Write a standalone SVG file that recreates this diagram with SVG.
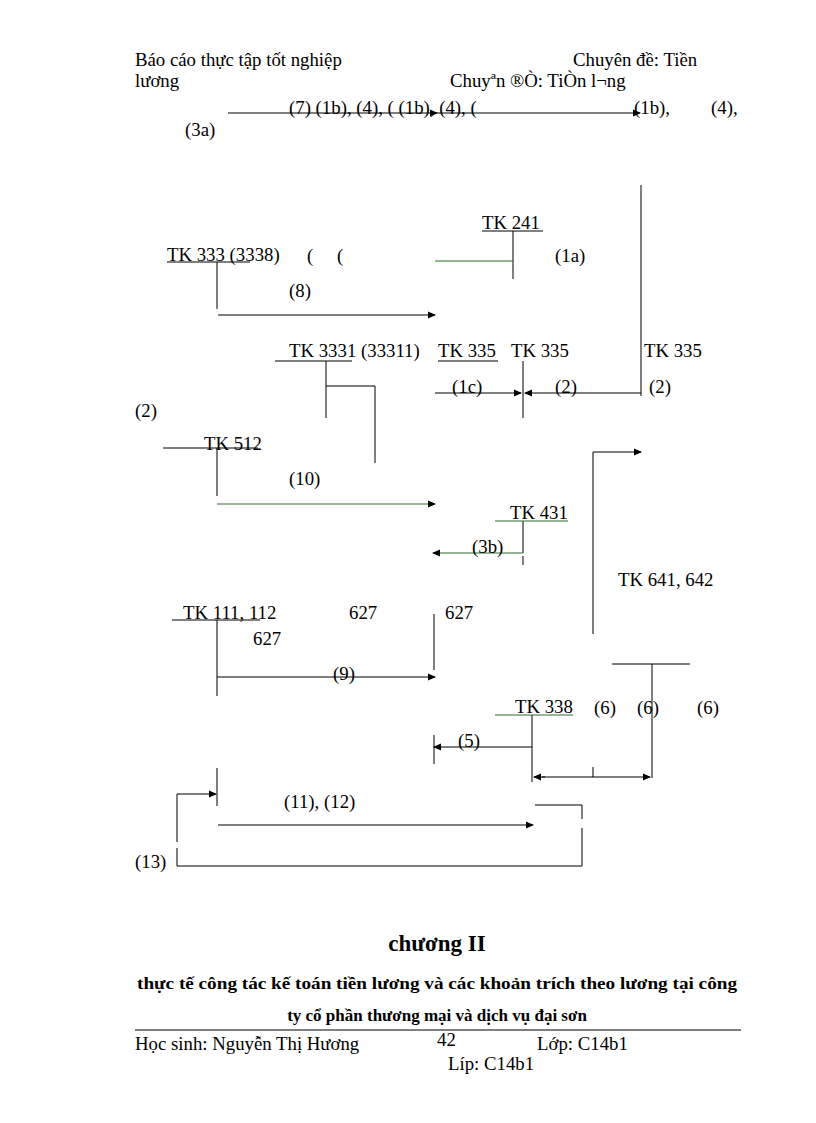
<svg xmlns="http://www.w3.org/2000/svg" width="816" height="1123" viewBox="0 0 816 1123">
<style>
text{font-family:"Liberation Serif",serif;font-size:18.8px;fill:#000}
.l{stroke:#000;stroke-width:1;fill:none}
.g{stroke:#2e6b2e;stroke-width:1;fill:none}
.b{font-weight:bold}
</style>
<defs><marker id="a" markerWidth="8" markerHeight="8" refX="7" refY="4" orient="auto" markerUnits="userSpaceOnUse"><path d="M0,0.5L8,4L0,7.5z" fill="#000"/></marker></defs>
<rect width="816" height="1123" fill="#fff"/>
<g id="header">
<text x="135" y="66">Báo cáo thực tập tốt nghiệp</text>
<text x="573" y="66">Chuyên đề: Tiền</text>
<text x="135" y="87">lương</text>
<text x="450" y="87">Chuyªn ®Ò: TiÒn l¬ng</text>
</g>
<g id="connectors">
<line class="l" x1="228" y1="113" x2="437" y2="113" marker-end="url(#a)"/>
<line class="l" x1="437" y1="113" x2="640" y2="113" marker-end="url(#a)"/>
<line class="l" x1="641" y1="185" x2="641" y2="396"/>
<line class="l" x1="513" y1="231" x2="513" y2="279"/>
<line class="g" x1="435" y1="261" x2="513" y2="261"/>
<line class="l" x1="217" y1="262" x2="217" y2="309"/>
<line class="l" x1="218" y1="315" x2="435" y2="315" marker-end="url(#a)"/>
<line class="l" x1="326" y1="361" x2="326" y2="418"/>
<polyline class="l" points="326,386 375,386 375,463"/>
<line class="l" x1="523" y1="361" x2="523" y2="418"/>
<line class="l" x1="435" y1="393" x2="521" y2="393" marker-end="url(#a)"/>
<line class="l" x1="641" y1="393" x2="525" y2="393" marker-end="url(#a)"/>
<line class="l" x1="217" y1="448" x2="217" y2="496"/>
<line class="g" x1="217" y1="504" x2="435" y2="504" marker-end="url(#a)"/>
<polyline class="l" points="593,634 593,452 641,452" marker-end="url(#a)"/>
<line class="l" x1="523" y1="521" x2="523" y2="553"/>
<line class="l" x1="523" y1="556" x2="523" y2="565"/>
<line class="g" x1="523" y1="553" x2="433" y2="553" marker-end="url(#a)"/>
<line class="l" x1="217" y1="620" x2="217" y2="696"/>
<line class="l" x1="434" y1="614" x2="434" y2="670"/>
<line class="l" x1="217" y1="677" x2="435" y2="677" marker-end="url(#a)"/>
<line class="l" x1="612" y1="664" x2="690" y2="664"/>
<line class="l" x1="652" y1="664" x2="652" y2="778"/>
<line class="l" x1="532" y1="715" x2="532" y2="782"/>
<line class="l" x1="532" y1="747" x2="434" y2="747" marker-end="url(#a)"/>
<line class="l" x1="434" y1="735" x2="434" y2="764"/>
<line class="l" x1="542" y1="777" x2="650" y2="777" marker-end="url(#a)"/>
<line class="l" x1="545" y1="777" x2="534" y2="777" marker-end="url(#a)"/>
<line class="l" x1="593" y1="767" x2="593" y2="777"/>
<line class="l" x1="217" y1="768" x2="217" y2="806"/>
<polyline class="l" points="177,842 177,794 216,794" marker-end="url(#a)"/>
<line class="l" x1="218" y1="825" x2="533" y2="825" marker-end="url(#a)"/>
<polyline class="l" points="535,805 582,805 582,819"/>
<polyline class="l" points="582,828 582,866 177,866 177,848"/>
</g>
<g id="labels">
<text x="289" y="114">(7) (1b), (4), ( (1b), (4), (</text>
<text x="634" y="114">(1b),</text>
<text x="711" y="114">(4),</text>
<text x="185" y="136">(3a)</text>
<text x="555" y="262">(1a)</text>
<text x="307" y="262">(</text>
<text x="337" y="262">(</text>
<text x="289" y="297">(8)</text>
<text x="452" y="393">(1c)</text>
<text x="555" y="393">(2)</text>
<text x="649" y="393">(2)</text>
<text x="135" y="417">(2)</text>
<text x="289" y="485">(10)</text>
<text x="472" y="553">(3b)</text>
<text x="349" y="619">627</text>
<text x="445" y="619">627</text>
<text x="253" y="645">627</text>
<text x="333" y="680">(9)</text>
<text x="594" y="714">(6)</text>
<text x="637" y="714">(6)</text>
<text x="697" y="714">(6)</text>
<text x="458" y="747">(5)</text>
<text x="284" y="808">(11), (12)</text>
<text x="135" y="868">(13)</text>
</g>
<g id="tk241"><text x="482" y="229">TK 241</text><line class="l" x1="482" y1="231" x2="543" y2="231"/></g>
<g id="tk333"><text x="167" y="261">TK 333  (3338)</text><line class="l" x1="167" y1="262" x2="250" y2="262"/></g>
<g id="tk3331"><text x="289" y="357">TK 3331  (33311)</text><line class="l" x1="275" y1="361" x2="352" y2="361"/></g>
<g id="tk335a"><text x="438" y="357">TK 335</text><text x="511" y="357">TK 335</text><line class="l" x1="438" y1="361" x2="498" y2="361"/></g>
<g id="tk335b"><text x="644" y="357">TK 335</text></g>
<g id="tk512"><text x="204" y="450">TK 512</text><line class="l" x1="163" y1="448" x2="258" y2="448"/></g>
<g id="tk431"><text x="510" y="519">TK 431</text><line class="g" x1="495" y1="521" x2="568" y2="521"/></g>
<g id="tk641"><text x="618" y="586">TK 641, 642</text></g>
<g id="tk111"><text x="183" y="619">TK 111, 112</text><line class="l" x1="172" y1="620" x2="260" y2="620"/></g>
<g id="tk338"><text x="515" y="713">TK 338</text><line class="g" x1="495" y1="715" x2="573" y2="715"/></g>
<g id="footer">
<text x="437" y="951" text-anchor="middle" class="b" style="font-size:23px">chương II</text>
<text x="437" y="989" text-anchor="middle" class="b" style="font-size:17px" textLength="600" lengthAdjust="spacingAndGlyphs">thực tế công tác kế toán tiền lương và các khoản trích theo lương tại công</text>
<text x="437" y="1021" text-anchor="middle" class="b" style="font-size:17px">ty cổ phần thương mại và dịch vụ đại sơn</text>
<line class="l" x1="135" y1="1030" x2="741" y2="1030"/>
<text x="135" y="1050">Học sinh: Nguyễn Thị Hương</text>
<text x="437" y="1046">42</text>
<text x="537" y="1050">Lớp: C14b1</text>
<text x="448" y="1070">Líp: C14b1</text>
</g>
</svg>
